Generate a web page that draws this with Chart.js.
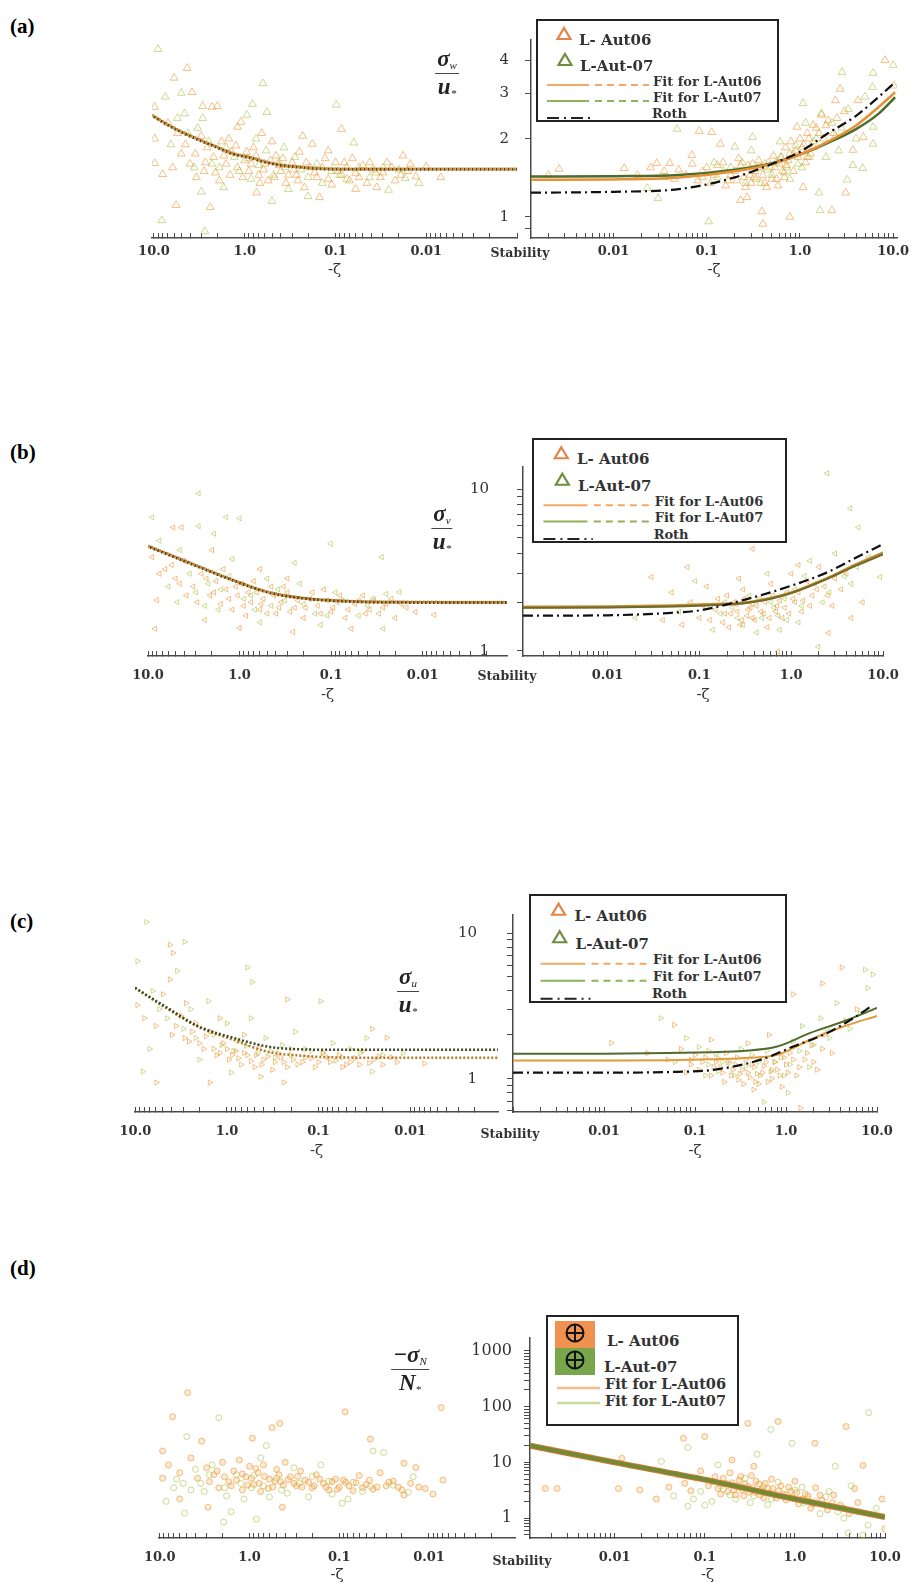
<!DOCTYPE html>
<html>
<head>
<meta charset="utf-8">
<script src="https://cdn.jsdelivr.net/npm/chart.js@4.4.1/dist/chart.umd.min.js"></script>
<style>
  html, body { margin: 0; padding: 0; background: #fff; }
  #page { position: relative; width: 917px; height: 1585px; overflow: hidden; }
  canvas { position: absolute; z-index: 1; }
  .tag { position: absolute; z-index: 2; font: bold 21px 'Liberation Serif', serif; color: #000; line-height: 1; }
  .stab { position: absolute; z-index: 2; font: bold 12.5px 'DejaVu Serif', serif; color: #333; transform: translate(-50%, -50%); white-space: nowrap; }
  .frac { position: absolute; z-index: 2; transform: translate(-50%, -50%); text-align: center; font: italic bold 23px 'Liberation Serif', serif; color: #222; line-height: 1; }
  .frac .num { display: block; border-bottom: 1.5px solid #444; padding: 0 2px 2px; }
  .frac .den { display: block; padding-top: 1px; }
  .frac sub { font-size: 11px; font-weight: normal; vertical-align: -3px; }
  .legend { position: absolute; z-index: 3; border: 2.5px solid #222; background: #fff; box-sizing: border-box; }
  .legend .t { position: absolute; transform: translateY(-50%); white-space: nowrap; color: #333; font-family: 'DejaVu Serif', serif; font-weight: bold; }
  .legend svg { position: absolute; left: 0; top: 0; overflow: visible; }
</style>
</head>
<body>
<div id="page">
  <div class="tag" style="left:10px; top:16px;">(a)</div>
  <div class="tag" style="left:10px; top:442px;">(b)</div>
  <div class="tag" style="left:10px; top:911px;">(c)</div>
  <div class="tag" style="left:10px; top:1258px;">(d)</div>

  <div class="frac" style="left:447px; top:73px;"><span class="num">σ<sub>w</sub></span><span class="den">u<sub>*</sub></span></div>
  <div class="frac" style="left:442px; top:528px;"><span class="num">σ<sub>v</sub></span><span class="den">u<sub>*</sub></span></div>
  <div class="frac" style="left:408px; top:991px;"><span class="num">σ<sub>u</sub></span><span class="den">u<sub>*</sub></span></div>
  <div class="frac" style="left:410px; top:1369px;"><span class="num">−σ<sub>N</sub></span><span class="den">N<sub>*</sub></span></div>

  <div class="stab" style="left:520px; top:252px;">Stability</div>
  <div class="stab" style="left:507px; top:675px;">Stability</div>
  <div class="stab" style="left:510px; top:1133px;">Stability</div>
  <div class="stab" style="left:522px; top:1560px;">Stability</div>
</div>
<script>
// ---- data: [-zeta, value] pairs ----

// tick labels
const xTickValues = [10, 1, 0.1, 0.01];
const xTickText = ['10.0', '1.0', '0.1', '0.01'];
const aYTicks = [1, 2, 3, 4];
const bYTicks = [1, 10];
const cYTicks = [1, 10];
const dYTicks = [1, 10, 100, 1000];

// (a) sigma_w / u*
const a06L = [[4.3,3.74],[6.0,3.43],[9.8,2.65],[3.8,3.02],[2.9,2.67],[2.3,2.65],[2.0,2.67],[9.8,2.0],[9.8,1.61],[8.0,1.46],[5.7,1.11],[2.4,1.09],[0.086,2.18],[0.018,1.72],[0.0069,1.42],[0.15,1.19],[0.74,1.24],[0.23,2.05],[0.18,1.91],[1.1,2.32],[1.2,2.22],
  [7,2.3],[5.5,2.1],[4.5,1.9],[3.5,1.75],[3.0,2.05],[2.6,1.85],[2.2,1.7],[1.8,1.95],[1.6,1.6],[1.4,1.78],[1.2,1.55],[1.0,1.65],[0.9,1.5],[0.8,1.85],[0.7,1.45],[0.6,1.6],[0.55,1.38],[0.45,1.72],[0.4,1.5],[0.35,1.35],[0.3,1.62],[0.27,1.45],[0.22,1.3],[0.19,1.55],[0.16,1.42],[0.13,1.68],[0.11,1.33],[0.095,1.5],[0.08,1.62],[0.07,1.38],[0.06,1.47],[0.05,1.58],[0.045,1.35],[0.038,1.52],[0.032,1.42],[0.027,1.62],[0.022,1.38],[0.016,1.5],[0.013,1.43],[0.01,1.56],[0.5,1.95],[0.65,2.1],[1.5,2.0],[2.8,1.5],[4.0,1.6],[0.25,1.78],[0.12,1.8],[0.06,1.28],[0.035,1.3],
  [2.7,1.62],[2.1,1.48],[1.7,1.72],[1.45,1.45],[1.25,1.88],[1.05,1.42],[0.95,1.78],[0.85,1.6],[0.75,1.72],[0.68,1.35],[0.62,1.52],[0.52,1.65],[0.47,1.42],[0.42,1.58],[0.38,1.68],[0.33,1.45],[0.29,1.52],[0.26,1.38],[0.21,1.62],[0.17,1.48],[0.14,1.55],[0.12,1.4],[0.1,1.62],[0.085,1.45],[0.075,1.55],[0.065,1.68],[0.055,1.42],[0.042,1.62],[0.03,1.48],[0.024,1.55],[0.019,1.45],[0.015,1.6],[1.9,1.38],[3.4,1.42],[5.0,1.75],[6.2,1.55]];
const a07L = [[3.0,1.25],[8.2,0.97],[2.75,0.88],[9.0,4.42],[0.63,3.27],[0.098,2.7],[0.063,1.93],[0.017,1.41],[0.026,1.27],[0.2,1.2],[0.5,1.15],[0.57,2.53],[0.82,2.72],[0.95,2.47],
  [7.5,2.9],[5.0,3.0],[4.6,2.5],[6.5,1.9],[3.3,2.2],[2.5,1.95],[1.9,1.55],[1.3,1.7],[0.85,1.4],[0.42,1.62],[0.33,1.28],[0.24,1.52],[0.14,1.35],[0.09,1.45],[0.042,1.42],[0.03,1.55],[0.012,1.35],[1.7,1.3],[0.75,2.0],[0.37,1.85],
  [2.3,1.6],[1.6,1.85],[1.15,1.5],[0.92,1.68],[0.7,1.58],[0.58,1.8],[0.48,1.45],[0.36,1.55],[0.28,1.7],[0.2,1.42],[0.16,1.6],[0.11,1.5],[0.075,1.4],[0.055,1.55],[0.036,1.48],[0.02,1.52],[4.2,2.1],[3.6,1.55],[5.5,2.4],[2.9,2.4]];
const a06R = [[8.2,4.01],[2.7,3.11],[10.2,3.2],[4.2,2.81],[2.4,2.81],[1.7,2.47],[1.38,2.26],[0.93,2.22],[0.78,1.0],[2.2,1.06],[3.1,1.24],[0.4,0.94],[0.083,2.14],[0.113,2.12],[0.14,1.91],[4.8,2.03],[3.7,1.81],[0.013,1.54],[0.0026,1.53],[0.002,1.45],[0.029,1.61],[0.04,1.61],[0.069,1.73],[0.27,1.19],[0.23,1.16],[0.39,1.05],[1.08,1.3],[1.19,1.7],
  [0.1,1.55],[0.12,1.45],[0.15,1.62],[0.17,1.38],[0.2,1.5],[0.22,1.68],[0.25,1.42],[0.28,1.58],[0.3,1.35],[0.33,1.5],[0.36,1.65],[0.4,1.45],[0.44,1.3],[0.48,1.55],[0.52,1.72],[0.56,1.4],[0.6,1.6],[0.65,1.5],[0.7,1.85],[0.75,1.65],[0.8,1.95],[0.9,1.8],[1.0,2.0],[1.1,1.9],[1.2,2.1],[1.3,1.75],[1.5,2.2],[1.8,2.0],[2.0,2.35],[2.3,2.1],[0.06,1.45],[0.07,1.6],[0.08,1.38],[0.05,1.52],[0.045,1.4],
  [0.11,1.35],[0.13,1.58],[0.16,1.32],[0.18,1.45],[0.21,1.38],[0.23,1.58],[0.26,1.3],[0.29,1.45],[0.31,1.6],[0.34,1.4],[0.38,1.55],[0.42,1.35],[0.46,1.62],[0.5,1.4],[0.54,1.55],[0.58,1.32],[0.63,1.7],[0.68,1.42],[0.72,1.58],[0.78,1.75],[0.85,1.5],[0.95,1.7],[1.05,1.85],[1.15,1.62],[1.25,2.0],[1.4,1.85],[1.6,2.1],[1.9,2.25],[2.5,2.4],[3.0,2.55],[0.09,1.42],[0.035,1.5],[0.025,1.55],[0.018,1.45]];
const a07R = [[10,3.84],[2.83,3.61],[6.1,3.58],[6.0,3.16],[1.08,2.74],[1.64,1.06],[1.6,1.24],[0.105,0.96],[0.03,1.18],[0.023,1.29],[0.048,2.18],[0.2,1.86],[0.31,2.03],[0.61,1.95],[6.1,1.91],[6.1,2.22],[4.7,1.54],[3.7,1.58],[3.2,1.39],
  [0.09,1.5],[0.13,1.42],[0.18,1.55],[0.26,1.35],[0.35,1.55],[0.42,1.6],[0.5,1.45],[0.62,1.7],[0.72,1.55],[0.85,1.75],[0.95,1.6],[1.15,2.3],[1.4,1.95],[1.7,2.5],[2.2,2.3],[2.6,1.8],[3.3,2.6],[0.035,1.42],[0.3,1.8],
  [0.15,1.5],[0.24,1.62],[0.32,1.42],[0.38,1.35],[0.45,1.52],[0.55,1.62],[0.68,1.48],[0.78,1.4],[0.9,1.88],[1.05,1.55],[1.25,1.7],[1.5,2.0],[1.9,1.7],[2.4,2.05],[2.8,2.2],[4.0,2.0],[5.0,2.9],[0.12,1.62]];
const aFit06L = [[10.5,2.47],[7.2,2.28],[4.8,2.12],[3.1,1.98],[2.0,1.86],[1.36,1.76],[0.88,1.7],[0.57,1.63],[0.38,1.58],[0.25,1.56],[0.16,1.54],[0.05,1.53],[0.001,1.53]];
const aFit07L = [[10.5,2.46],[7.2,2.27],[4.8,2.11],[3.1,1.97],[2.0,1.85],[1.36,1.75],[0.88,1.69],[0.57,1.62],[0.38,1.575],[0.25,1.555],[0.16,1.535],[0.05,1.525],[0.001,1.525]];
const aFit06R = [[0.0013,1.39],[0.01,1.395],[0.05,1.42],[0.2,1.5],[0.5,1.6],[1,1.74],[2,1.95],[4,2.25],[7,2.65],[10.5,3.02]];
const aFit07R = [[0.0013,1.43],[0.01,1.435],[0.05,1.45],[0.2,1.52],[0.5,1.61],[1,1.74],[2,1.93],[4,2.18],[7,2.5],[10.5,2.89]];
const aRoth = [[0.0013,1.24],[0.01,1.25],[0.05,1.28],[0.2,1.42],[0.5,1.6],[1,1.78],[2,2.1],[4,2.45],[7,2.9],[10.5,3.3]];

// (b) sigma_v / u*
const b06L = [[8.0,2.06],[8.4,1.37],[2.4,1.55],[1.0,1.39],[0.26,1.31],[0.06,1.37],[5.3,5.8],[4.3,5.8],[9.0,3.8],[6.5,3.2],[5,2.8],[4,3.6],[3.2,2.5],[2.6,3.0],[2.1,2.2],[1.8,2.7],[1.5,3.2],[1.3,2.1],[1.1,2.5],[0.9,1.9],[0.8,2.3],[0.7,2.7],[0.6,1.8],[0.55,2.1],[0.45,2.5],[0.4,1.7],[0.35,2.0],[0.3,2.3],[0.25,1.85],[0.2,1.6],[0.17,2.1],[0.14,1.9],[0.12,2.4],[0.1,1.75],[0.085,2.0],[0.07,1.6],[0.055,1.95],[0.045,2.2],[0.038,1.8],[0.03,1.7],[0.025,1.95],[0.02,1.6],[0.015,1.85],[0.012,1.74],[0.0075,1.67],[0.6,3.2],[0.3,2.8],[2.0,4.2],
  [3.8,2.2],[2.9,2.0],[2.3,2.8],[1.9,2.3],[1.6,1.95],[1.4,2.4],[1.2,1.8],[1.05,2.2],[0.95,2.6],[0.85,1.65],[0.75,2.0],[0.65,2.3],[0.58,1.95],[0.5,1.7],[0.42,2.2],[0.37,1.85],[0.33,2.5],[0.28,1.75],[0.23,2.05],[0.19,1.85],[0.16,2.3],[0.13,1.7],[0.11,2.05],[0.095,1.85],[0.08,2.2],[0.065,1.8],[0.05,2.05],[0.042,1.7],[0.034,2.05],[0.027,1.85],[0.022,2.1],[0.017,1.95],[5.5,3.4],[7.5,3.0],[4.5,2.6]];
const b07L = [[2.8,9.4],[9.0,6.7],[2.8,5.9],[1.4,6.7],[1.0,6.6],[1.9,5.3],[0.101,4.6],[0.028,3.8],[0.25,3.5],[0.027,1.37],[0.018,2.31],[7.5,4.8],[4.5,4.2],[3.5,3.0],[2.2,2.6],[1.6,2.4],[1.2,3.7],[0.75,2.2],[0.5,2.8],[0.38,2.4],[0.22,2.6],[0.15,1.7],[0.09,2.3],[0.05,1.65],[0.035,2.1],[0.6,1.5],[1.7,1.8],[0.13,1.45],
  [3,2.3],[2.4,1.9],[1.3,2.9],[0.9,2.1],[0.68,1.8],[0.45,1.9],[0.32,2.05],[0.2,1.95],[0.11,1.65],[0.075,2.05],[0.04,1.9],[0.025,2.25],[6,2.5],[4.8,2.0]];
const b06R = [[0.074,3.3],[0.03,2.86],[0.38,4.27],[0.72,0.99],[2.55,1.29],[0.05,2.3],[0.08,2.0],[0.1,1.6],[0.12,2.5],[0.15,1.8],[0.18,1.5],[0.2,2.2],[0.22,1.7],[0.25,1.95],[0.28,1.45],[0.3,2.4],[0.33,1.65],[0.36,1.85],[0.4,1.55],[0.45,2.1],[0.5,1.7],[0.55,1.4],[0.6,2.6],[0.7,1.9],[0.8,1.6],[0.9,2.3],[1.0,3.0],[1.1,2.0],[1.3,1.75],[1.5,2.7],[1.7,2.2],[2.0,3.3],[2.3,2.5],[2.8,1.9],[3.5,2.4],[4.5,1.6],[6,2.0],[0.04,1.55],[0.065,1.45],[1.2,3.4],[0.27,2.8],
  [0.16,2.1],[0.19,1.7],[0.21,1.4],[0.24,2.0],[0.26,1.75],[0.29,1.55],[0.31,2.1],[0.34,1.8],[0.38,1.6],[0.42,1.9],[0.47,1.75],[0.52,2.0],[0.58,1.6],[0.63,2.2],[0.68,1.75],[0.75,2.05],[0.85,1.85],[0.95,1.7],[1.05,2.1],[1.2,2.3],[1.35,2.05],[1.6,1.9],[1.9,2.4],[2.5,2.2],[3.0,2.8],[4,3.0],[0.13,1.55],[0.11,1.9]];
const b07R = [[2.46,12.5],[5.4,5.8],[4.4,7.6],[5.2,3.3],[1.97,1.06],[9.3,2.86],[0.02,1.6],[0.06,1.75],[0.09,2.7],[0.14,1.35],[0.19,2.0],[0.26,1.6],[0.35,2.2],[0.42,1.3],[0.65,1.85],[0.85,2.1],[1.2,1.5],[1.6,3.6],[2.2,2.0],[3.0,4.0],[3.8,2.9],[7,3.8],[0.55,3.0],[1.4,2.9],[0.75,1.35],
  [0.23,1.85],[0.3,1.45],[0.38,1.95],[0.48,1.6],[0.6,2.0],[0.72,1.65],[0.9,1.55],[1.1,2.4],[1.3,1.9],[1.8,2.6],[2.6,2.3],[4.5,2.6],[0.17,1.7]];
const bFit06L = [[10,4.45],[5,3.8],[2.7,3.3],[1.2,2.75],[0.5,2.32],[0.2,2.12],[0.09,2.05],[0.03,2.01],[0.0012,2.0]];
const bFit07L = [[10,4.42],[5,3.78],[2.7,3.28],[1.2,2.74],[0.5,2.31],[0.2,2.11],[0.09,2.04],[0.03,2.0],[0.0012,1.99]];
const bFit06R = [[0.0012,1.87],[0.01,1.875],[0.05,1.9],[0.15,1.94],[0.3,1.98],[0.6,2.12],[1.05,2.31],[2.5,2.82],[5,3.4],[10,4.03]];
const bFit07R = [[0.0012,1.85],[0.01,1.855],[0.05,1.88],[0.15,1.92],[0.3,1.97],[0.6,2.1],[1.05,2.3],[2.5,2.8],[5,3.35],[10,3.95]];
const bRoth = [[0.0012,1.65],[0.01,1.66],[0.05,1.72],[0.1,1.78],[0.3,2.06],[1.05,2.55],[2.5,3.07],[5,3.75],[10,4.57]];

// (c) sigma_u / u*
const c06L = [[4.2,8.3],[3.9,7.3],[4.2,4.8],[0.22,3.5],[0.026,2.2],[0.007,1.27],[5.9,0.94],[9.5,3.2],[8,2.6],[6,2.3],[5,3.8],[4,2.0],[3.2,2.7],[2.6,1.8],[2.2,2.4],[1.8,1.6],[1.5,2.1],[1.3,1.45],[1.1,1.75],[0.95,1.35],[0.8,1.55],[0.7,1.25],[0.6,1.45],[0.5,1.2],[0.45,1.65],[0.4,1.35],[0.32,1.15],[0.28,1.5],[0.24,1.3],[0.2,1.6],[0.17,1.25],[0.14,1.4],[0.11,1.2],[0.09,1.5],[0.075,1.3],[0.06,1.45],[0.05,1.25],[0.04,1.38],[0.033,1.55],[0.028,1.28],[0.022,1.42],[0.018,1.91],[0.014,1.3],[1.54,0.94],[0.43,1.03],[0.24,0.94],[1.2,2.6],[2.8,3.3],[0.65,2.0],
  [3.6,2.3],[2.9,1.9],[2.4,2.1],[2.0,1.75],[1.7,1.95],[1.4,1.6],[1.2,1.5],[1.0,1.6],[0.88,1.45],[0.75,1.38],[0.65,1.5],[0.55,1.32],[0.48,1.45],[0.42,1.25],[0.36,1.42],[0.3,1.3],[0.26,1.4],[0.22,1.2],[0.19,1.35],[0.15,1.3],[0.12,1.38],[0.1,1.3],[0.08,1.4],[0.065,1.33],[0.055,1.2],[0.045,1.3],[0.036,1.25],[0.025,1.35],[0.02,1.25],[0.016,1.4]];
const c07L = [[7.6,11.9],[2.9,8.7],[9.5,6.4],[0.6,5.8],[0.53,4.6],[0.095,3.4],[8.3,1.12],[0.026,1.12],[3.5,5.5],[6.5,4.0],[7,1.6],[2.5,3.0],[1.6,3.4],[1.0,2.4],[0.75,1.8],[0.55,2.6],[0.38,1.9],[0.3,1.4],[0.18,2.1],[0.12,1.55],[0.07,1.75],[0.045,1.6],[0.03,1.9],[0.012,1.5],[0.9,1.1],[2.0,1.35],
  [3.0,2.2],[2.2,1.9],[1.4,2.0],[1.15,1.7],[0.85,1.55],[0.62,1.68],[0.46,1.5],[0.33,1.55],[0.25,1.7],[0.2,1.45],[0.14,1.6],[0.09,1.5],[0.055,1.4],[0.035,1.5],[0.02,1.45],[4.5,2.6],[5.5,3.0]];
const c06R = [[4.1,5.8],[2.5,4.5],[1.2,3.8],[0.059,2.34],[0.012,1.76],[1.44,0.63],[0.44,0.84],[0.03,1.5],[0.05,1.35],[0.07,1.6],[0.09,1.25],[0.1,1.45],[0.12,1.3],[0.14,1.55],[0.16,1.2],[0.18,1.38],[0.2,1.1],[0.22,1.5],[0.25,1.05],[0.28,1.25],[0.3,0.98],[0.33,1.15],[0.36,1.35],[0.4,1.02],[0.45,1.2],[0.5,0.92],[0.55,1.1],[0.6,1.3],[0.7,1.0],[0.8,1.15],[0.9,0.88],[1.0,1.25],[1.1,1.5],[1.3,1.05],[1.6,1.35],[1.9,1.7],[2.2,1.15],[2.7,2.0],[3.2,1.5],[4.5,2.5],[6,3.0],[0.65,2.0],[0.38,1.75],[0.15,1.85],
  [0.11,1.15],[0.13,1.4],[0.15,1.05],[0.17,1.3],[0.19,1.2],[0.21,0.95],[0.23,1.3],[0.26,1.15],[0.29,1.4],[0.31,1.08],[0.34,0.92],[0.38,1.1],[0.42,1.25],[0.46,0.95],[0.52,1.05],[0.57,1.22],[0.63,0.95],[0.68,1.12],[0.75,1.3],[0.85,1.05],[0.95,1.4],[1.05,1.1],[1.2,1.35],[1.4,1.2],[1.7,1.5],[2.0,1.3],[2.5,1.6],[0.09,1.35],[0.08,1.1]];
const c07R = [[7.4,5.6],[9.0,5.2],[7.9,4.2],[0.042,2.6],[0.57,0.69],[0.08,1.9],[0.11,1.65],[0.13,1.05],[0.17,1.48],[0.24,1.28],[0.32,1.6],[0.42,1.45],[0.48,1.08],[0.62,1.55],[0.75,1.3],[0.95,1.05],[1.2,1.8],[1.5,2.3],[1.8,1.2],[2.4,2.6],[3.0,1.9],[3.6,3.3],[5,2.2],[6.5,2.8],[1.05,0.8],
  [0.14,1.25],[0.2,1.3],[0.27,1.05],[0.36,1.22],[0.5,1.3],[0.7,1.15],[0.88,1.4],[1.1,1.25],[1.4,1.55],[2.0,1.7],[2.8,2.2],[0.06,1.3],[0.18,1.12]];
const cFit06L = [[10.1,4.2],[5,3.15],[2,2.25],[0.86,1.85],[0.36,1.53],[0.16,1.44],[0.07,1.4],[0.01,1.39],[0.0011,1.39]];
const cFit07L = [[10.1,4.2],[5,3.2],[2,2.27],[0.86,1.91],[0.36,1.66],[0.16,1.59],[0.07,1.58],[0.01,1.58],[0.0011,1.58]];
const cFit06R = [[0.001,1.33],[0.01,1.333],[0.05,1.34],[0.15,1.36],[0.4,1.39],[0.8,1.46],[1.85,1.85],[4.2,2.27],[10,2.7]];
const cFit07R = [[0.001,1.48],[0.01,1.485],[0.05,1.5],[0.15,1.52],[0.34,1.55],[0.8,1.66],[1.85,2.06],[4.2,2.46],[10,3.06]];
const cRoth = [[0.001,1.1],[0.01,1.1],[0.05,1.11],[0.16,1.15],[0.53,1.35],[1.2,1.66],[2.84,2.06],[5.5,2.6],[9,3.2]];

// (d) -sigma_N / N*
const d06L = [[4.9,178],[7.2,66],[0.086,81],[0.0073,96],[0.56,42],[0.46,50],[9.3,16],[0.93,27],[3.4,24],[0.045,26],[9.3,5.2],[6.0,2.2],[2.9,1.57],[0.43,1.57],[0.011,3.4],[0.019,9.6],[0.014,8.1],[0.019,2.6],
  [8,9],[6,6.5],[4.5,12],[3.8,5.2],[3.0,8],[2.5,6],[2.0,10],[1.7,4.5],[1.5,7],[1.3,11],[1.1,5.5],[1.0,8.5],[0.9,4],[0.8,6.5],[0.7,9],[0.6,5],[0.55,3.6],[0.5,7.5],[0.45,4.5],[0.4,10],[0.35,5.5],[0.3,3.8],[0.27,7],[0.24,4.8],[0.2,3.5],[0.18,6],[0.15,4.2],[0.13,3.2],[0.11,5],[0.1,3.6],[0.085,4.4],[0.07,3.1],[0.06,5.8],[0.05,4],[0.042,3.3],[0.035,6.5],[0.03,3.8],[0.025,4.6],[0.02,3.2],[0.016,4.2],[0.013,3.6],[0.009,2.7],[0.007,4.8],[1.2,3.2],[0.75,3.0],[2.2,3.5],
  [2.8,4.5],[2.3,7],[1.9,5.5],[1.6,3.8],[1.4,4.8],[1.2,6.2],[1.05,3.9],[0.95,5.2],[0.85,7.8],[0.78,4.2],[0.68,5.6],[0.62,3.4],[0.52,4.6],[0.47,6],[0.42,3.9],[0.37,4.9],[0.32,4.2],[0.29,5.6],[0.26,3.6],[0.22,4.4],[0.19,3.8],[0.165,5],[0.14,3.6],[0.12,4.5],[0.105,3.3],[0.09,4.8],[0.078,3.8],[0.065,4.3],[0.055,3.5],[0.046,4.8],[0.038,3.6],[0.028,4.4],[0.022,3.6]];
const d07L = [[2.2,63],[5.0,29],[0.65,20],[0.042,16],[5.3,1.23],[1.94,0.85],[0.84,0.96],[0.093,1.85],[7,3.5],[5.5,4.2],[4,7.5],[3.2,3],[2.6,9],[1.8,2.5],[1.4,6],[1.15,2.2],[0.95,3.5],[0.75,12],[0.6,2.4],[0.38,2.8],[0.32,8],[0.22,2.4],[0.16,9],[0.12,2.7],[0.08,2.2],[0.055,3],[0.032,15],[0.015,5.5],[0.017,2.9],[8.5,2.0],[1.6,1.3],
  [3.5,4.2],[2.8,6],[1.9,3.5],[1.25,4.2],[0.9,5.8],[0.7,3.8],[0.5,5.2],[0.44,3.2],[0.28,4.2],[0.2,5.6],[0.13,4.6],[0.07,4.4],[0.045,3.7],[0.025,3.9],[6.5,5],[4.5,3.2]];
const d06R = [[0.65,54],[0.3,50],[3.7,44],[0.1,29],[0.058,27],[1.67,22],[0.012,11.8],[0.0017,3.4],[0.0023,3.4],[0.011,3.4],[5.7,8.8],[9.3,2.2],[4.6,3.4],[10,0.64],[0.029,2.2],[0.019,3.2],
  [0.04,3.6],[0.05,6],[0.06,4.2],[0.07,3.1],[0.08,5.2],[0.09,7],[0.11,3.8],[0.13,5.5],[0.15,2.7],[0.17,4.2],[0.19,6.5],[0.21,3.2],[0.24,4.8],[0.27,2.5],[0.3,3.7],[0.33,5.8],[0.36,2.9],[0.4,4.1],[0.45,2.3],[0.5,3.4],[0.55,5],[0.6,2.6],[0.7,3.8],[0.8,2.1],[0.9,3],[1.0,4.6],[1.1,1.8],[1.3,2.7],[1.5,1.5],[1.7,3.5],[2.0,2.1],[2.3,1.4],[2.7,2.6],[3.2,1.7],[4.0,1.2],[5,1.9],[0.35,8.5],[0.2,11],
  [0.12,4.5],[0.14,3.4],[0.16,5.2],[0.18,3.0],[0.2,4.3],[0.22,2.6],[0.23,3.7],[0.25,5.6],[0.26,3.2],[0.28,4.1],[0.31,2.9],[0.34,3.5],[0.37,4.6],[0.41,2.6],[0.43,3.3],[0.47,4.2],[0.52,2.8],[0.57,3.4],[0.62,2.3],[0.66,3.1],[0.75,2.7],[0.85,3.6],[0.95,2.3],[1.05,2.9],[1.2,2.2],[1.4,2.5],[1.6,1.8],[1.9,2.6],[2.2,1.7],[2.6,1.9],[3.5,1.5]];
const d07R = [[6.6,78],[0.54,39],[0.93,22],[0.065,18.5],[0.033,10.4],[2.8,8.5],[6.5,0.75],[3.9,0.54],[5.7,0.5],[0.065,1.64],[0.1,1.7],[0.045,2.5],[0.075,2.2],[0.12,2.0],[0.16,3.3],[0.22,2.2],[0.28,5.2],[0.32,1.9],[0.42,3.1],[0.5,1.75],[0.65,4.4],[0.75,2.4],[1.2,3.6],[1.4,2.2],[1.9,1.2],[2.4,3.0],[3.5,1.0],[4.2,3.8],[8,1.5],[0.14,9],[0.38,14],
  [0.15,3.8],[0.19,2.6],[0.25,3.6],[0.35,2.5],[0.45,3.7],[0.55,2.2],[0.8,2.6],[1.0,3.2],[1.25,1.9],[1.7,2.0],[2.2,2.4],[3.0,1.3],[5,1.3],[0.09,3.0]];
const dFit06R = [[0.00115,20],[0.01,10],[0.1,4.9],[1,2.2],[10,1.05]];
const dFit07R = [[0.00115,20],[0.01,10],[0.1,4.9],[1,2.2],[10,1.05]];

// ---- styling ----
const AXIS = '#4a4a4a';
const TXT = '#333';
const ORANGE_PT = 'rgba(238,150,52,0.6)';
const GREEN_PT = 'rgba(165,198,72,0.6)';
const PADX = 24;   // room for end labels
const PADT = 8;
const page = document.getElementById('page');

const pts = arr => arr.map(([x, y]) => ({ x, y }));

function isNice(v) {
  const m = v / Math.pow(10, Math.floor(Math.log10(v) + 1e-9));
  return Math.abs(m - Math.round(m)) < 1e-6;
}

function tickText(v, vals, texts) {
  const i = vals.findIndex(t => Math.abs(t - v) / t < 1e-6);
  if (i >= 0) return texts[i];
  return isNice(v) ? '' : null;
}

function scatterSet(arr, color, mk) {
  return {
    data: pts(arr), showLine: false, order: 2,
    pointStyle: mk.shape, pointRotation: mk.rot, pointRadius: mk.r,
    pointBorderColor: color, pointBackgroundColor: mk.fill || 'transparent', pointBorderWidth: 1
  };
}

function fitSet(arr, color, width, dash, offset) {
  return {
    data: pts(arr), showLine: true, order: 0, pointRadius: 0,
    borderColor: color, borderWidth: width, borderDash: dash || [], borderDashOffset: offset || 0,
    cubicInterpolationMode: 'monotone', fill: false
  };
}

// one half of a panel: left (unstable, reversed) or right (stable, with y axis)
function half(g, datasets) {
  const yw = g.withY ? g.yw : 0;
  const c = document.createElement('canvas');
  const w = (g.x1 - g.x0) + 2 * PADX + yw;
  const h = (g.y1 - g.y0) + PADT + g.xh + 2;
  c.width = w; c.height = h;
  c.style.left = (g.x0 - PADX - yw) + 'px';
  c.style.top = (g.y0 - PADT) + 'px';
  page.appendChild(c);

  const yAxis = g.withY ? {
    type: 'logarithmic', min: g.yMin, max: g.yMax, position: 'left',
    border: { display: true, color: AXIS, width: 1.5 },
    grid: { drawOnChartArea: false, tickLength: 6, color: AXIS },
    ticks: { autoSkip: false, padding: g.ypad, color: TXT,
      font: { family: 'DejaVu Serif', size: g.yfont },
      callback: v => tickText(v, g.yVals, g.yVals.map(String)) },
    afterFit: s => { s.width = yw; s.paddingTop = 0; s.paddingBottom = 0; }
  } : { type: 'logarithmic', min: g.yMin, max: g.yMax, display: false };

  new Chart(c, {
    type: 'scatter',
    data: { datasets },
    options: {
      responsive: false, animation: false, devicePixelRatio: 1,
      layout: { padding: { left: PADX, right: PADX, top: PADT, bottom: 2 } },
      plugins: { legend: { display: false }, tooltip: { enabled: false } },
      scales: {
        x: {
          type: 'logarithmic', min: g.xMin, max: g.xMax, reverse: !g.withY,
          border: { display: true, color: AXIS, width: 1.5 },
          grid: { drawOnChartArea: false, tickLength: -5, color: AXIS },
          ticks: { autoSkip: false, maxRotation: 0, padding: g.xpad, color: TXT,
            font: { family: 'DejaVu Serif', size: 13, weight: 'bold' },
            callback: v => tickText(v, xTickValues, xTickText) },
          title: { display: true, text: '-ζ', color: TXT, padding: 0,
            font: { family: 'DejaVu Serif', size: 15 } },
          afterFit: s => { s.height = g.xh; s.paddingLeft = 0; s.paddingRight = 0; }
        },
        y: yAxis
      }
    }
  });
}

// ---- legends ----
function legendABC(x, y, w, h) {
  const sx = w / 243, sy = h / 103;
  const box = document.createElement('div');
  box.className = 'legend';
  Object.assign(box.style, { left: x + 'px', top: y + 'px', width: w + 'px', height: h + 'px' });
  const tri = (cx, cy, col) =>
    `<polygon points="${cx},${cy - 6} ${cx + 6.5},${cy + 5} ${cx - 6.5},${cy + 5}" fill="none" stroke="${col}" stroke-width="2.2"/>`;
  const ln = (x1, x2, yy, col, dash, wd) =>
    `<line x1="${x1 * sx}" x2="${x2 * sx}" y1="${yy * sy}" y2="${yy * sy}" stroke="${col}" stroke-width="${wd}" ${dash ? `stroke-dasharray="${dash}"` : ''}/>`;
  box.innerHTML =
    `<svg width="${w}" height="${h}">` +
    tri(26 * sx, 13 * sy, '#e3844a') + tri(27 * sx, 39 * sy, '#6e8f3e') +
    ln(9, 51, 64, '#f2a868', '', 2) + ln(57, 111, 64, '#f2a868', '7 5', 2) +
    ln(9, 51, 80, '#8fb35a', '', 2) + ln(57, 111, 80, '#8fb35a', '7 5', 2) +
    ln(9, 56, 97, '#222', '12 5 2 5', 2) +
    `</svg>` +
    `<div class="t" style="left:${41 * sx}px; top:${19 * sy}px; font-size:15px;">L- Aut06</div>` +
    `<div class="t" style="left:${42 * sx}px; top:${45 * sy}px; font-size:15px;">L-Aut-07</div>` +
    `<div class="t" style="left:${115 * sx}px; top:${60 * sy}px; font-size:13px;">Fit for L-Aut06</div>` +
    `<div class="t" style="left:${115 * sx}px; top:${76 * sy}px; font-size:13px;">Fit for L-Aut07</div>` +
    `<div class="t" style="left:${114 * sx}px; top:${92 * sy}px; font-size:13px;">Roth</div>`;
  page.appendChild(box);
}

function legendD(x, y, w, h) {
  const box = document.createElement('div');
  box.className = 'legend';
  Object.assign(box.style, { left: x + 'px', top: y + 'px', width: w + 'px', height: h + 'px' });
  const cp = (cx, cy) =>
    `<circle cx="${cx}" cy="${cy}" r="8.5" fill="none" stroke="#111" stroke-width="2"/>` +
    `<line x1="${cx - 8}" x2="${cx + 8}" y1="${cy}" y2="${cy}" stroke="#111" stroke-width="2"/>` +
    `<line x1="${cx}" x2="${cx}" y1="${cy - 8}" y2="${cy + 8}" stroke="#111" stroke-width="2"/>`;
  box.innerHTML =
    `<svg width="${w}" height="${h}">` +
    `<rect x="7" y="4" width="40" height="27" fill="#ef9250"/>` +
    `<rect x="7" y="31" width="40" height="27" fill="#79a64a"/>` +
    cp(27, 16) + cp(27, 43) +
    `<line x1="9" x2="52" y1="71" y2="71" stroke="#f5b98a" stroke-width="2.5"/>` +
    `<line x1="9" x2="52" y1="86" y2="86" stroke="#c8dc9c" stroke-width="2.5"/>` +
    `</svg>` +
    `<div class="t" style="left:59px; top:24px; font-size:15px;">L- Aut06</div>` +
    `<div class="t" style="left:56px; top:50px; font-size:15px;">L-Aut-07</div>` +
    `<div class="t" style="left:57px; top:66px; font-size:14.5px;">Fit for L-Aut06</div>` +
    `<div class="t" style="left:57px; top:83px; font-size:14.5px;">Fit for L-Aut07</div>`;
  page.appendChild(box);
}

// ---- panels ----
const upTri = { shape: 'triangle', rot: 0, r: 4.5 };
const leftTri = { shape: 'triangle', rot: -90, r: 3 };
const rightTri = { shape: 'triangle', rot: 90, r: 3 };
const ring = { shape: 'circle', rot: 0, r: 3 };
const ringFill = { shape: 'circle', rot: 0, r: 3, fill: 'rgba(245,175,90,0.25)' };
const DOT = [2, 2];
const ROTH = [10, 4, 2, 4];

// (a)
half({ x0: 152, x1: 517, y0: 40, y1: 238, xMin: 0.001, xMax: 10.5, yMin: 0.83, yMax: 4.8, xh: 41, xpad: 11 }, [
  fitSet(aFit06L, '#d98b2b', 3, DOT, 0), fitSet(aFit07L, '#5b4a1e', 3, DOT, 2),
  scatterSet(a06L, ORANGE_PT, upTri), scatterSet(a07L, GREEN_PT, upTri)
]);
half({ x0: 531, x1: 897, y0: 40, y1: 238, xMin: 0.0013, xMax: 11, yMin: 0.83, yMax: 4.8, xh: 41, xpad: 11,
  withY: true, yw: 60, ypad: 16, yfont: 15, yVals: aYTicks }, [
  fitSet(aRoth, '#111', 2.2, ROTH), fitSet(aFit06R, '#e59236', 2.5), fitSet(aFit07R, '#4d6b2c', 2.5),
  scatterSet(a06R, ORANGE_PT, upTri), scatterSet(a07R, GREEN_PT, upTri)
]);

// (b)
half({ x0: 148, x1: 507, y0: 467, y1: 656, xMin: 0.0012, xMax: 10, yMin: 0.93, yMax: 13.7, xh: 48, xpad: 17 }, [
  fitSet(bFit06L, '#c9862b', 3, DOT, 0), fitSet(bFit07L, '#5b451c', 3, DOT, 2),
  scatterSet(b06L, ORANGE_PT, leftTri), scatterSet(b07L, GREEN_PT, leftTri)
]);
half({ x0: 523, x1: 883, y0: 467, y1: 656, xMin: 0.0012, xMax: 10, yMin: 0.93, yMax: 13.7, xh: 48, xpad: 17,
  withY: true, yw: 70, ypad: 28, yfont: 15, yVals: bYTicks }, [
  fitSet(bRoth, '#111', 2.2, ROTH), fitSet(bFit07R, '#6d6b2c', 2), fitSet(bFit06R, '#c98b30', 3),
  scatterSet(b06R, ORANGE_PT, leftTri), scatterSet(b07R, GREEN_PT, leftTri)
]);

// (c)
half({ x0: 135, x1: 498, y0: 915, y1: 1112, xMin: 0.0011, xMax: 10.1, yMin: 0.59, yMax: 13.3, xh: 48, xpad: 17 }, [
  fitSet(cFit07L, '#3f4a22', 2.5, DOT, 0), fitSet(cFit06L, '#b87a2a', 2.5, DOT, 0),
  scatterSet(c06L, ORANGE_PT, rightTri), scatterSet(c07L, GREEN_PT, rightTri)
]);
half({ x0: 513, x1: 877, y0: 915, y1: 1112, xMin: 0.001, xMax: 10, yMin: 0.59, yMax: 13.3, xh: 48, xpad: 17,
  withY: true, yw: 70, ypad: 30, yfont: 15, yVals: cYTicks }, [
  fitSet(cRoth, '#111', 2.2, ROTH), fitSet(cFit07R, '#506b2d', 2), fitSet(cFit06R, '#e39a3f', 2),
  scatterSet(c06R, ORANGE_PT, rightTri), scatterSet(c07R, GREEN_PT, rightTri)
]);

// (d)
half({ x0: 159, x1: 515, y0: 1338, y1: 1538, xMin: 0.0011, xMax: 10.2, yMin: 0.44, yMax: 1700, xh: 46, xpad: 17 }, [
  scatterSet(d06L, ORANGE_PT, ringFill), scatterSet(d07L, GREEN_PT, ring)
]);
// green fit listed first so it is drawn on top of the wider orange one
half({ x0: 530, x1: 885, y0: 1338, y1: 1538, xMin: 0.00115, xMax: 10, yMin: 0.44, yMax: 1700, xh: 46, xpad: 17,
  withY: true, yw: 70, ypad: 12, yfont: 16, yVals: dYTicks }, [
  fitSet(dFit07R, '#728a34', 4), fitSet(dFit06R, '#d07a30', 6),
  scatterSet(d06R, ORANGE_PT, ringFill), scatterSet(d07R, GREEN_PT, ring)
]);

legendABC(536, 19, 243, 103);
legendABC(532, 438, 255, 105);
legendABC(529, 894, 258, 109);
legendD(546, 1315, 193, 111);
</script>
</body>
</html>
